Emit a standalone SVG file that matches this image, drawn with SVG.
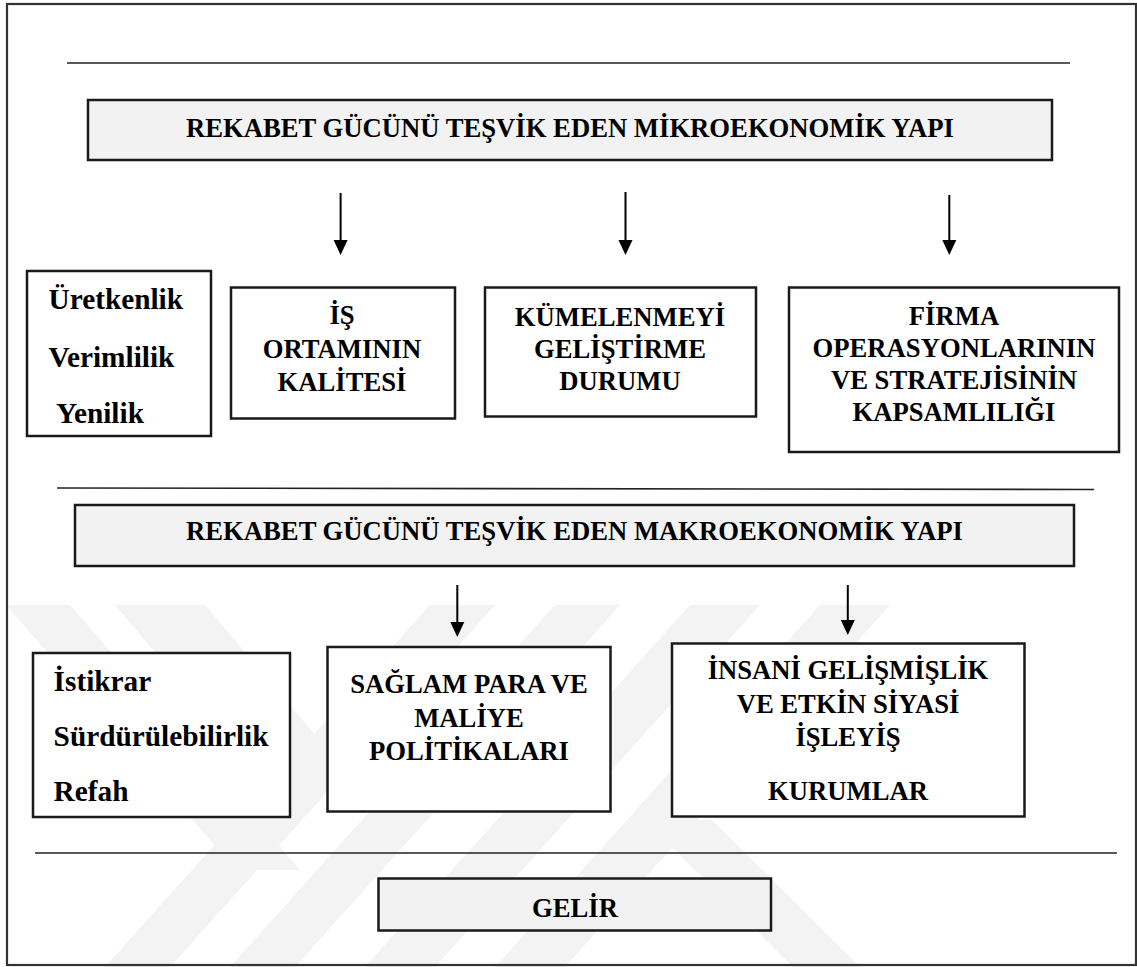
<svg xmlns="http://www.w3.org/2000/svg" width="1137" height="967" viewBox="0 0 1137 967">
<style>
.t{font-family:"Liberation Serif","Times New Roman",serif;font-weight:bold;font-size:26.67px;fill:#000;text-anchor:middle}
.l{font-family:"Liberation Serif","Times New Roman",serif;font-weight:bold;font-size:29.3px;fill:#000}
.box{fill:#fff;stroke:#1a1a1a;stroke-width:2.5}
.hbox{fill:#f2f2f2;stroke:#1a1a1a;stroke-width:2.5}
.rule{stroke:#222;stroke-width:1.6;fill:none}
.wm{fill:#f3f3f3}
.conn line{stroke:#000;stroke-width:2}
.conn polygon{fill:#000}
</style>
<rect x="0" y="0" width="1137" height="967" fill="#fff"/>
<g id="watermark">
<polygon class="wm" points="6,605 70,605 300,870 236,870"/>
<polygon class="wm" points="115,605 205,605 345,770 255,770"/>
<polygon class="wm" points="430,605 495,605 170,967 105,967"/>
<polygon class="wm" points="555,605 620,605 295,967 230,967"/>
<polygon class="wm" points="690,605 760,605 435,967 365,967"/>
<polygon class="wm" points="820,605 890,605 565,967 495,967"/>
<polygon class="wm" points="645,820 712,820 860,967 793,967"/>
</g>
<rect id="frame" x="7" y="4" width="1129" height="961" fill="none" stroke="#333" stroke-width="2.2"/>
<g id="rules">
<line class="rule" x1="67" y1="63" x2="1070" y2="63"/>
<line class="rule" x1="57" y1="488" x2="1094" y2="489.5"/>
<line class="rule" x1="35" y1="853" x2="1117" y2="853" stroke="#555"/>
</g>
<g id="micro-title">
<rect class="hbox" x="88" y="100" width="964" height="60"/>
<text class="t" x="570" y="137">REKABET GÜCÜNÜ TEŞVİK EDEN MİKROEKONOMİK YAPI</text>
</g>
<g id="micro-outcomes">
<rect class="box" x="27" y="271" width="184" height="165"/>
<text class="l" x="48.5" y="309">Üretkenlik</text>
<text class="l" x="48.5" y="366.5">Verimlilik</text>
<text class="l" x="56" y="423">Yenilik</text>
</g>
<g id="is-ortami">
<rect class="box" x="231" y="287.5" width="224" height="131"/>
<text class="t" x="342" y="324">İŞ</text>
<text class="t" x="342" y="358">ORTAMININ</text>
<text class="t" x="342" y="391">KALİTESİ</text>
</g>
<g id="kumelenme">
<rect class="box" x="485" y="287.5" width="271" height="129"/>
<text class="t" x="620" y="326">KÜMELENMEYİ</text>
<text class="t" x="620" y="358">GELİŞTİRME</text>
<text class="t" x="620" y="390">DURUMU</text>
</g>
<g id="firma">
<rect class="box" x="789" y="287.5" width="330" height="164.5"/>
<text class="t" x="954" y="325">FİRMA</text>
<text class="t" x="954" y="357">OPERASYONLARININ</text>
<text class="t" x="954" y="389">VE STRATEJİSİNİN</text>
<text class="t" x="954" y="421">KAPSAMLILIĞI</text>
</g>
<g id="macro-title">
<rect class="hbox" x="75" y="505" width="999" height="61"/>
<text class="t" x="574.5" y="540">REKABET GÜCÜNÜ TEŞVİK EDEN MAKROEKONOMİK YAPI</text>
</g>
<g id="macro-outcomes">
<rect class="box" x="33" y="653" width="257" height="164"/>
<text class="l" x="53.6" y="691">İstikrar</text>
<text class="l" x="53.6" y="746">Sürdürülebilirlik</text>
<text class="l" x="53.6" y="801">Refah</text>
</g>
<g id="saglam">
<rect class="box" x="327.5" y="647" width="283" height="164.5"/>
<text class="t" x="469" y="693">SAĞLAM PARA VE</text>
<text class="t" x="469" y="727">MALİYE</text>
<text class="t" x="469" y="760">POLİTİKALARI</text>
</g>
<g id="insani">
<rect class="box" x="672" y="643.5" width="352.5" height="173"/>
<text class="t" x="848" y="679">İNSANİ GELİŞMİŞLİK</text>
<text class="t" x="848" y="712.5">VE ETKİN SİYASİ</text>
<text class="t" x="848" y="746">İŞLEYİŞ</text>
<text class="t" x="848" y="800">KURUMLAR</text>
</g>
<g id="gelir">
<rect class="hbox" x="378.5" y="878.5" width="392.5" height="52"/>
<text class="t" x="575" y="917">GELİR</text>
</g>
<g id="connectors" class="conn">
<line x1="340.6" y1="193" x2="340.6" y2="242"/>
<polygon points="333.6,240 347.6,240 340.6,255"/>
<line x1="625.5" y1="192" x2="625.5" y2="242"/>
<polygon points="618.5,240 632.5,240 625.5,255"/>
<line x1="949.3" y1="195" x2="949.3" y2="242"/>
<polygon points="942.3,240 956.3,240 949.3,255"/>
<line x1="457.3" y1="585" x2="457.3" y2="624"/>
<polygon points="450.3,622 464.3,622 457.3,637"/>
<line x1="847.8" y1="585" x2="847.8" y2="622"/>
<polygon points="840.8,620 854.8,620 847.8,635"/>
</g>
</svg>
